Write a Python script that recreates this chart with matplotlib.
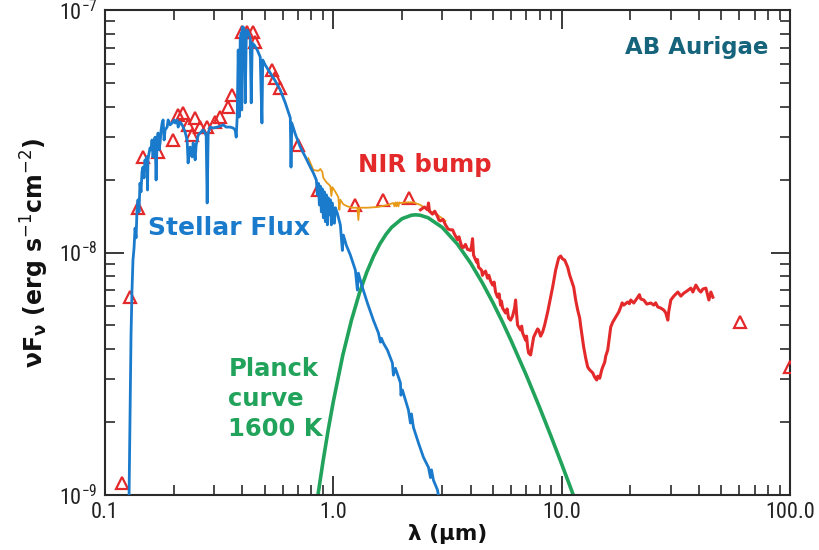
import matplotlib
matplotlib.use('Agg')
import matplotlib.pyplot as plt
from matplotlib import font_manager
from matplotlib.ticker import FixedLocator, FuncFormatter, NullFormatter
import numpy as np


def pick(fams):
    for f in fams:
        try:
            font_manager.findfont(f, fallback_to_default=False)
            return f
        except Exception:
            pass
    return 'DejaVu Sans'


tick_font = pick(['Liberation Sans Narrow', 'DejaVu Sans Condensed', 'Roboto Condensed', 'Lato'])

# ---------------- data (wavelength in micron, nuF_nu in 1e-9 erg s^-1 cm^-2) -------------
stellar_wl = [0.1274, 0.1287, 0.1294, 0.1300, 0.1307, 0.1313, 0.1326, 0.1340, 0.1354, 0.1368,
              0.1381, 0.1395, 0.1409, 0.1423, 0.1438, 0.1452, 0.1467, 0.1482, 0.1497, 0.1512,
              0.1527, 0.1535, 0.1543, 0.1559, 0.1575, 0.1591, 0.1607, 0.1623, 0.1640, 0.1657,
              0.1674, 0.1691, 0.1708, 0.1725, 0.1743, 0.1761, 0.1779, 0.1797, 0.1815, 0.1833,
              0.1871, 0.1890, 0.1928, 0.1967, 0.2008, 0.2028, 0.2070, 0.2091, 0.2133, 0.2177,
              0.2199, 0.2243, 0.2289, 0.2312, 0.2336, 0.2360, 0.2384, 0.2408, 0.2433, 0.2457,
              0.2482, 0.2507, 0.2533, 0.2559, 0.2610, 0.2690, 0.2746, 0.2774, 0.2802, 0.2831,
              0.2888, 0.2977, 0.3101, 0.3195, 0.3294, 0.3394, 0.3534, 0.3642, 0.3717, 0.3755,
              0.3793, 0.3832, 0.3871, 0.3910, 0.3950, 0.3970, 0.3990, 0.4031, 0.4072, 0.4112,
              0.4154, 0.4196, 0.4239, 0.4325, 0.4369, 0.4413, 0.4504, 0.4643, 0.4785, 0.4868,
              0.4907, 0.5033, 0.5294, 0.5568, 0.5856, 0.6160, 0.6479, 0.6526, 0.6578, 0.6814,
              0.7167, 0.7539, 0.7929, 0.8172, 0.8425, 0.8510, 0.8597, 0.8685, 0.8772, 0.8861,
              0.8951, 0.9041, 0.9132, 0.9226, 0.9320, 0.9414, 0.9510, 0.9607, 0.9704, 0.9803,
              0.9902, 1.0103, 1.0205, 1.0413, 1.0733, 1.0952, 1.1063, 1.1404, 1.1874, 1.2489,
              1.2743, 1.2873, 1.3394, 1.4099, 1.4974, 1.5755, 1.6075, 1.6239, 1.6570, 1.7253,
              1.8144, 1.8328, 1.8704, 1.9673, 1.9773, 2.0066, 2.1327, 2.1763, 2.1985, 2.2431,
              2.3593, 2.4815, 2.6100, 2.6633, 2.6904, 2.7451, 2.8577, 2.9169]
stellar_flux = [0.954, 2.04, 3.28, 4.56, 5.79, 7.00, 9.31, 10.4, 12.6, 11.5,
                15.0, 16.5, 14.7, 19.3, 17.8, 21.5, 22.5, 20.3, 24.1, 21.9,
                24.8, 18.1, 24.1, 25.7, 27.0, 26.5, 29.1, 24.8, 28.5, 29.9,
                19.9, 29.1, 31.1, 26.5, 28.3, 32.0, 34.2, 35.2, 29.1, 32.0,
                32.9, 35.2, 33.6, 34.2, 35.2, 34.2, 35.2, 32.9, 34.5, 33.6,
                32.9, 31.4, 29.1, 23.4, 26.5, 27.2, 25.2, 24.8, 28.3, 26.5,
                24.1, 27.7, 29.1, 30.5, 31.1, 32.0, 31.1, 30.2, 16.0, 31.1,
                32.9, 32.6, 32.9, 33.2, 33.6, 32.9, 32.9, 32.6, 32.0, 29.9,
                36.2, 68.4, 36.2, 75.2, 80.4, 38.7, 85.1, 85.1, 82.7, 41.4,
                75.2, 82.7, 81.1, 76.7, 41.4, 73.1, 71.7, 68.4, 64.0, 34.2,
                62.2, 59.3, 55.0, 51.0, 46.8, 41.4, 35.9, 22.5, 34.2, 30.8,
                27.2, 24.8, 22.5, 21.3, 19.9, 17.3, 19.3, 15.7, 18.8, 14.7,
                18.3, 13.9, 17.8, 13.4, 17.3, 13.0, 16.8, 14.3, 16.5, 13.0,
                16.0, 13.2, 15.3, 14.5, 13.0, 10.2, 11.8, 10.7, 9.76, 8.46,
                7.00, 8.22, 7.20, 6.19, 5.26, 4.66, 4.27, 4.43, 4.23, 3.96,
                3.50, 3.12, 3.33, 2.90, 2.58, 2.71, 2.24, 1.98, 2.16, 1.90,
                1.64, 1.43, 1.30, 1.18, 1.27, 1.15, 1.05, 0.94]

total_wl = [0.7772, 0.8172, 0.8597, 0.8772, 0.8951, 0.9041, 0.9320, 0.9704, 0.9803, 0.9902,
            1.0205, 1.0520, 1.0626, 1.0733, 1.1063, 1.1519, 1.2111, 1.2743, 1.2873, 1.3003,
            1.4099, 1.5596, 1.7253, 1.8328, 1.8514, 1.8704, 1.8894, 1.9086, 1.9280, 1.9475,
            1.9673, 2.1115, 2.2431, 2.4076, 2.5841, 2.8577, 3.0989]
total_flux = [24.5, 21.9, 21.7, 22.1, 21.5, 20.3, 19.5, 18.8, 17.1, 18.6,
              17.8, 16.9, 15.0, 16.5, 15.8, 15.5, 15.3, 15.3, 13.6, 15.3,
              15.3, 15.4, 15.7, 16.0, 15.5, 16.1, 15.5, 16.1, 15.5, 16.1,
              16.0, 16.1, 16.1, 15.7, 15.0, 14.3, 13.5]

ir_wl = [2.4076, 2.5068, 2.5841, 2.6100, 2.6366, 2.7179, 2.78, 2.8577, 2.90, 2.9463,
         3.02, 3.0989, 3.18, 3.2594, 3.33, 3.3937, 3.4980, 3.55, 3.6058, 3.66,
         3.7177, 3.79, 3.8699, 3.9890, 4.0295, 4.0705, 4.1118, 4.2381, 4.28, 4.3247,
         4.4577, 4.50, 4.5484, 4.6414, 4.7362, 4.80, 4.8818, 4.9815, 5.06, 5.1347,
         5.2394, 5.32, 5.4006, 5.45, 5.5107, 5.6803, 5.77, 5.8548, 5.9745, 6.0960,
         6.2214, 6.2840, 6.3480, 6.4125, 6.6094, 6.68, 6.7448, 6.9517, 7.02, 7.0933,
         7.1655, 7.3118, 7.3861, 7.5364, 7.6905, 7.8473, 7.9270, 8.0888, 8.2535, 8.4219,
         8.6815, 8.9484, 9.1310, 9.4119, 9.6038, 9.7023, 9.8994, 10.101, 10.308, 10.625,
         10.840, 11.287, 11.518, 11.753, 11.993, 12.115, 12.362, 12.487, 12.742, 13.002,
         13.267, 13.676, 13.955, 14.240, 14.386, 14.677, 14.977, 15.129, 15.437, 15.594,
         15.912, 16.237, 16.402, 16.736, 17.252, 17.782, 18.145, 18.40, 18.704, 19.474,
         19.80, 20.073, 20.690, 21.545, 21.90, 22.206, 22.888, 23.593, 24.566, 25.321,
         25.80, 26.365, 27.177, 28.012, 28.584, 29.167, 29.463, 30.065, 30.989, 32.261,
         33.259, 34.281, 35.338, 36.794, 37.545, 38.700, 39.890, 40.704, 41.535, 42.812,
         43.686, 44.128, 45.030, 45.950]
ir_flux = [15.0, 15.4, 15.0, 16.0, 14.8, 14.4, 14.8, 14.1, 13.6, 13.5,
           13.7, 13.0, 12.5, 12.4, 12.4, 11.9, 11.3, 11.6, 11.0, 10.5,
           10.5, 10.8, 10.3, 10.2, 10.6, 11.4, 9.76, 9.13, 9.35, 8.70,
           8.46, 8.05, 8.22, 8.38, 7.84, 8.05, 7.63, 7.34, 7.55, 6.87,
           6.54, 6.75, 6.07, 6.30, 5.90, 5.63, 5.85, 5.37, 5.26, 5.47,
           5.90, 6.37, 5.57, 5.02, 4.79, 4.97, 4.66, 4.35, 4.52, 4.07,
           3.85, 3.78, 4.00, 4.47, 4.66, 4.84, 4.79, 4.52, 4.70, 5.02,
           5.68, 6.54, 7.20, 8.46, 9.13, 9.49, 9.67, 9.40, 9.31, 8.70,
           8.07, 7.20, 6.37, 5.79, 5.37, 4.97, 4.35, 4.07, 3.67, 3.37,
           3.28, 3.19, 3.06, 2.98, 3.09, 3.03, 3.28, 3.37, 3.53, 3.74,
           3.96, 4.56, 4.93, 5.16, 5.42, 5.68, 5.96, 6.20, 6.07, 6.25,
           6.15, 6.37, 6.19, 6.54, 6.70, 6.43, 6.37, 6.13, 6.19, 6.07,
           6.20, 5.96, 5.90, 5.79, 5.63, 5.26, 5.74, 6.37, 6.61, 6.87,
           6.61, 6.80, 6.93, 7.13, 6.87, 7.34, 7.00, 6.87, 7.07, 7.13,
           6.61, 6.37, 6.87, 6.54]

planck_wl = [0.85, 0.90, 0.95, 1.0, 1.1, 1.2, 1.3, 1.4, 1.5, 1.6, 1.7, 1.8, 2.0, 2.2, 2.29,
             2.4, 2.6, 3.0, 3.5, 4.0, 4.5, 5.0, 5.5, 6.0, 7.0, 8.0, 9.0, 10.0, 11.0, 11.5]
planck_flux = [0.953, 1.365, 1.862, 2.43, 3.77, 5.25, 6.79, 8.28, 9.65, 10.86, 11.87, 12.70,
               13.79, 14.25, 14.30, 14.25, 13.91, 12.69, 10.81, 9.02, 7.48, 6.21, 5.18, 4.34,
               3.12, 2.30, 1.738, 1.342, 1.057, 0.943]

phot_wl = [0.1187, 0.1287, 0.1395, 0.1468, 0.1708, 0.1987, 0.2090, 0.2198, 0.2312, 0.2407,
           0.2482, 0.2610, 0.2802, 0.3038, 0.3195, 0.3463, 0.3606, 0.3990, 0.4196, 0.4459,
           0.4550, 0.5402, 0.5568, 0.5856, 0.7023, 0.8596, 1.249, 1.657, 2.154, 60.35, 100.0]
phot_flux = [1.12, 6.55, 15.3, 24.8, 26.0, 29.1, 36.9, 37.6, 33.6, 30.5,
             35.9, 32.9, 32.9, 34.5, 36.2, 39.8, 44.6, 81.2, 81.2, 81.2,
             73.8, 56.6, 52.4, 47.7, 27.7, 18.1, 15.7, 16.5, 16.8, 5.17, 3.37]

x_ticks = [0.1, 1.0, 10.0, 100.0]
x_tick_labels = ['0.1', '1.0', '10.0', '100.0']
y_ticks = [1e-9, 1e-8, 1e-7]

UNIT = 1e-9

BLUE = '#1a7acb'
RED = '#e4292b'
ORANGE = '#e89b18'
GREEN = '#21a35b'
TEAL = '#16637c'

fig = plt.figure(figsize=(8.19, 5.5), dpi=100)
ax = fig.add_axes([105 / 819, 55 / 550, 685 / 819, 485 / 550])

ax.plot(planck_wl, np.array(planck_flux) * UNIT, color=GREEN, lw=2.6, zorder=2)
ax.plot(phot_wl, np.array(phot_flux) * UNIT, linestyle='none', marker='^', ms=9,
        mfc='none', mec=RED, mew=1.6, zorder=3)
ax.plot(total_wl, np.array(total_flux) * UNIT, color=ORANGE, lw=1.3, zorder=3)
ax.plot(ir_wl, np.array(ir_flux) * UNIT, color=RED, lw=2.2, zorder=4)
ax.plot(stellar_wl, np.array(stellar_flux) * UNIT, color=BLUE, lw=2.0, zorder=5)

ax.set_xscale('log')
ax.set_yscale('log')
ax.set_xlim(0.1, 100)
ax.set_ylim(1e-9, 1e-7)

ax.xaxis.set_major_locator(FixedLocator(x_ticks))
ax.xaxis.set_major_formatter(FuncFormatter(
    lambda v, p: x_tick_labels[int(np.argmin([abs(np.log10(t) - np.log10(v)) for t in x_ticks]))]))
minor_x = [m * 10.0 ** e for e in range(-1, 2) for m in range(2, 10)]
ax.xaxis.set_minor_locator(FixedLocator(minor_x))
ax.xaxis.set_minor_formatter(NullFormatter())

ax.yaxis.set_major_locator(FixedLocator(y_ticks))
ax.yaxis.set_major_formatter(FuncFormatter(lambda v, p: r'$\mathdefault{10^{%d}}$' % int(round(np.log10(v)))))
minor_y = [m * 10.0 ** e for e in range(-9, -7) for m in range(2, 10)]
ax.yaxis.set_minor_locator(FixedLocator(minor_y))
ax.yaxis.set_minor_formatter(NullFormatter())

ax.tick_params(which='both', direction='in', top=True, right=True, color='#2a2a2a')
ax.tick_params(which='major', length=14, width=1.3)
ax.tick_params(which='minor', length=7, width=1.2)
ax.tick_params(axis='x', which='major', pad=5)
ax.tick_params(axis='y', which='major', pad=5)
for lab in ax.get_xticklabels() + ax.get_yticklabels():
    lab.set_fontfamily(tick_font)
    lab.set_fontsize(16)
    lab.set_color('#222222')
for s in ax.spines.values():
    s.set_linewidth(1.5)
    s.set_color('#2a2a2a')

ax.set_xlabel('λ (µm)', fontsize=15.5, fontweight='bold', labelpad=1, color='#111111')
ax.set_ylabel(r'$\mathbf{\nu F_{\nu}}$ (erg s$^{-1}$cm$^{-2}$)', fontsize=17, fontweight='bold',
              labelpad=6, color='#111111')

ax.text(0.864, 0.922, 'AB Aurigae', transform=ax.transAxes, ha='center', va='center',
        fontsize=16.5, fontweight='bold', color=TEAL, family='DejaVu Sans')
ax.text(0.467, 0.680, 'NIR bump', transform=ax.transAxes, ha='center', va='center',
        fontsize=17.5, fontweight='bold', color=RED)
ax.text(0.063, 0.550, 'Stellar Flux', transform=ax.transAxes, ha='left', va='center',
        fontsize=18, fontweight='bold', color=BLUE)
ax.text(0.180, 0.198, 'Planck\ncurve\n1600 K', transform=ax.transAxes, ha='left', va='center',
        fontsize=17.5, fontweight='bold', color=GREEN, linespacing=1.3)

fig.savefig('out.png', dpi=100)
